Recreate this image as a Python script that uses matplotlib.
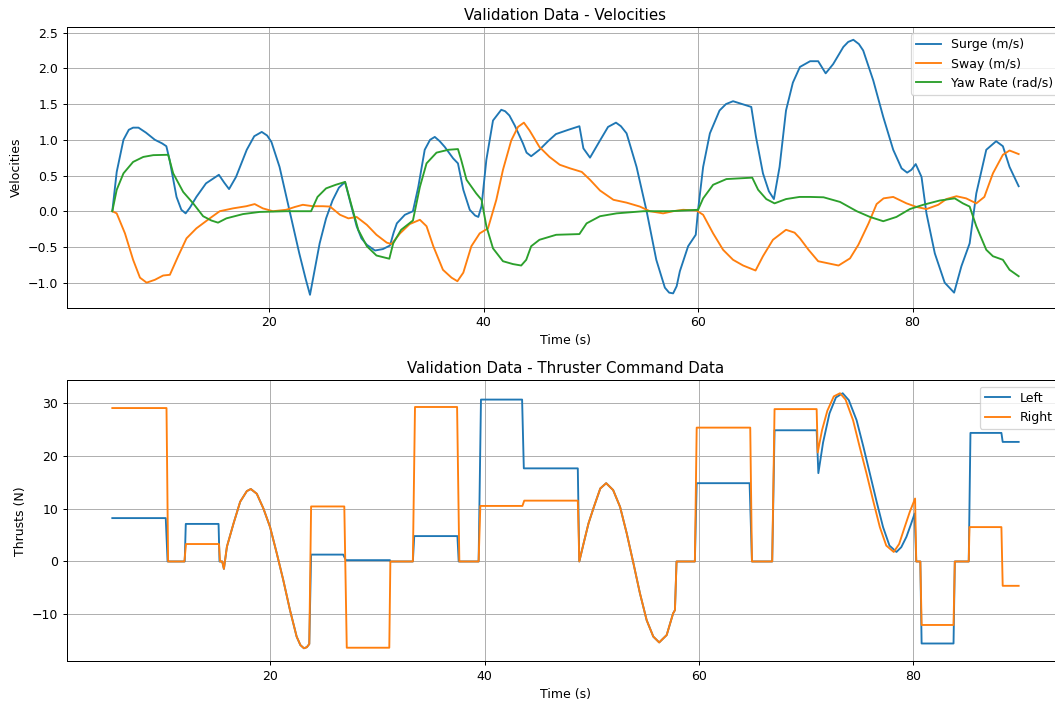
import numpy as np
from matplotlib import pyplot as plt

# velocities
surge_t = [5.36, 5.77, 6.4, 6.9, 7.3, 7.8, 8.5, 9.33, 10.0, 10.4, 10.7, 11.35, 11.8, 12.2,
           12.6, 13.2, 14.1, 15.3, 15.8, 16.25, 16.9, 17.9, 18.6, 19.3, 19.8, 20.2, 20.96,
           21.9, 22.8, 23.4, 23.8, 24.2, 24.7, 25.3, 25.9, 26.5, 27.07, 27.6, 28.15, 28.6,
           29.1, 29.86, 30.6, 31.26, 31.6, 31.9, 32.65, 33.4, 33.9, 34.5, 35.0, 35.44, 35.9,
           36.37, 37.15, 37.6, 38.1, 38.7, 39.2, 39.5, 39.8, 40.25, 40.87, 41.64, 42.0, 42.4,
           42.9, 43.66, 44.0, 44.43, 45.2, 46.0, 46.74, 47.9, 48.93, 49.3, 49.92, 50.85, 51.6,
           52.34, 52.8, 53.33, 54.26, 55.2, 56.1, 56.9, 57.3, 57.67, 58.0, 58.3, 59.07, 59.78,
           60.0, 60.47, 61.1, 62.0, 62.6, 63.26, 64.1, 64.96, 65.4, 66.05, 66.6, 67.07, 67.6,
           68.2, 68.84, 69.5, 70.45, 71.2, 71.9, 72.6, 73.55, 74.0, 74.48, 75.0, 75.4, 76.34,
           77.27, 78.2, 78.98, 79.5, 79.9, 80.3, 80.84, 81.3, 82.08, 83.0, 83.88, 84.56, 85.33,
           85.95, 86.88, 87.8, 88.43, 89.05, 89.4, 89.9]
surge = [0.0, 0.55, 1.0, 1.14, 1.17, 1.17, 1.10, 1.00, 0.95, 0.91, 0.72, 0.20, 0.02, -0.03,
         0.05, 0.20, 0.39, 0.51, 0.40, 0.31, 0.48, 0.86, 1.05, 1.11, 1.06, 0.97, 0.62,
         0.0, -0.59, -0.95, -1.17, -0.85, -0.45, -0.10, 0.15, 0.33, 0.41, 0.10, -0.21, -0.38,
         -0.47, -0.55, -0.53, -0.48, -0.30, -0.17, -0.05, 0.0, 0.34, 0.86, 1.0, 1.04, 0.98,
         0.90, 0.74, 0.67, 0.30, 0.02, -0.06, -0.08, 0.07, 0.72, 1.27, 1.42, 1.40, 1.34,
         1.20, 0.95, 0.82, 0.77, 0.86, 0.98, 1.08, 1.14, 1.19, 0.88, 0.75, 0.99, 1.18,
         1.24, 1.19, 1.09, 0.62, 0.0, -0.68, -1.07, -1.14, -1.15, -1.05, -0.84, -0.49, -0.33,
         0.02, 0.62, 1.09, 1.41, 1.50, 1.54, 1.50, 1.46, 1.04, 0.53, 0.28, 0.17, 0.62,
         1.41, 1.80, 2.02, 2.10, 2.10, 1.93, 2.06, 2.30, 2.37, 2.40, 2.34, 2.25, 1.83,
         1.32, 0.86, 0.60, 0.54, 0.58, 0.66, 0.48, -0.03, -0.59, -1.00, -1.14, -0.77, -0.45,
         0.25, 0.86, 0.98, 0.91, 0.62, 0.51, 0.35]

sway_t = [5.36, 5.77, 6.54, 7.3, 7.94, 8.56, 9.33, 10.1, 10.73, 11.5, 12.28, 13.2, 14.45,
          15.38, 16.62, 17.86, 18.64, 19.4, 20.34, 21.58, 22.4, 23.13, 24.06, 25.0, 25.67,
          26.6, 27.38, 28.15, 29.1, 30.0, 30.96, 31.4, 32.2, 33.1, 34.05, 34.67, 35.3, 36.2,
          37.0, 37.55, 38.1, 38.85, 39.63, 40.4, 41.18, 41.8, 42.57, 43.2, 43.75, 44.28,
          45.2, 46.14, 47.1, 48.06, 49.15, 49.92, 50.85, 52.1, 53.33, 54.57, 55.5, 56.74,
          57.67, 58.6, 59.85, 60.47, 61.4, 62.33, 63.26, 64.2, 65.36, 66.05, 66.98, 68.2,
          69.0, 69.5, 70.3, 71.2, 72.15, 73.1, 74.17, 74.95, 75.9, 76.65, 77.3, 78.2, 79.44,
          80.37, 81.3, 82.4, 83.16, 84.1, 85.0, 85.95, 86.7, 87.5, 88.43, 89.05, 89.9]
sway = [0.0, -0.03, -0.31, -0.68, -0.93, -1.00, -0.96, -0.90, -0.89, -0.63, -0.38, -0.24, -0.10,
        0.0, 0.04, 0.07, 0.10, 0.04, 0.0, 0.02, 0.06, 0.09, 0.07, 0.07, 0.065,
        -0.05, -0.10, -0.08, -0.19, -0.33, -0.44, -0.46, -0.31, -0.18, -0.12, -0.21, -0.49, -0.82,
        -0.93, -0.98, -0.86, -0.49, -0.31, -0.24, 0.16, 0.58, 0.99, 1.18, 1.24, 1.13,
        0.90, 0.76, 0.65, 0.60, 0.55, 0.44, 0.29, 0.16, 0.12, 0.065, 0.0, -0.03,
        0.0, 0.02, 0.01, -0.05, -0.31, -0.54, -0.68, -0.76, -0.83, -0.63, -0.40, -0.26,
        -0.30, -0.38, -0.54, -0.70, -0.73, -0.76, -0.66, -0.47, -0.17, 0.10, 0.18, 0.20, 0.11,
        0.06, 0.03, 0.09, 0.17, 0.21, 0.18, 0.11, 0.20, 0.53, 0.79, 0.85, 0.80]

yaw_t = [5.36, 5.77, 6.4, 7.3, 8.25, 9.18, 10.57, 11.04, 11.97, 12.9, 13.83, 14.6, 15.22,
         16.0, 17.55, 19.1, 21.58, 23.9, 24.5, 25.3, 26.2, 27.07, 27.7, 28.3, 29.1, 30.0,
         31.2, 31.56, 32.3, 33.4, 34.05, 34.67, 35.6, 36.7, 37.6, 37.9, 38.4, 39.3, 39.8,
         40.25, 40.87, 41.8, 42.73, 43.5, 43.97, 44.43, 45.2, 46.76, 48.93, 49.6, 50.85,
         52.4, 54.9, 57.36, 60.0, 60.47, 61.4, 62.64, 65.05, 65.6, 66.36, 67.13, 68.2,
         69.46, 70.45, 71.7, 73.24, 74.8, 76.03, 77.27, 78.5, 79.75, 81.0, 82.54, 83.94,
         84.7, 85.33, 85.95, 86.88, 87.5, 88.43, 89.05, 89.9]
yaw = [0.0, 0.30, 0.53, 0.69, 0.76, 0.785, 0.79, 0.53, 0.27, 0.11, -0.07, -0.13, -0.16,
       -0.10, -0.04, -0.01, 0.0, 0.0, 0.20, 0.32, 0.37, 0.41, 0.065, -0.26, -0.49, -0.62,
       -0.665, -0.45, -0.26, -0.13, 0.34, 0.67, 0.82, 0.86, 0.87, 0.72, 0.44, 0.25, 0.16,
       -0.21, -0.52, -0.70, -0.74, -0.76, -0.68, -0.49, -0.40, -0.33, -0.32, -0.17, -0.07,
       -0.03, 0.0, 0.0, 0.02, 0.18, 0.37, 0.45, 0.47, 0.30, 0.17, 0.11, 0.17,
       0.20, 0.20, 0.195, 0.13, 0.0, -0.08, -0.14, -0.08, 0.03, 0.09, 0.15, 0.18,
       0.11, 0.065, -0.21, -0.54, -0.63, -0.68, -0.82, -0.91]

# thruster commands
left_t = [5.24, 10.23, 10.4, 12.0, 12.1, 15.16, 15.25, 15.5, 15.66, 15.94, 16.56, 17.18, 17.8,
          18.17, 18.73, 19.35, 19.97, 20.6, 21.2, 21.83, 22.45, 22.8, 23.13, 23.4, 23.63, 23.8,
          26.8, 27.04, 31.16, 31.2, 33.3, 33.43, 37.46, 37.58, 39.44, 39.66, 43.5, 43.66, 48.7,
          48.84, 49.24, 49.7, 50.2, 50.8, 51.35, 52.0, 52.65, 53.27, 53.9, 54.5, 55.13, 55.75,
          56.3, 57.0, 57.6, 57.77, 57.92, 59.63, 59.8, 64.74, 64.96, 66.85, 67.07, 71.0, 71.16,
          71.6, 72.2, 72.8, 73.43, 74.0, 74.73, 75.35, 75.97, 76.6, 77.2, 77.8, 78.45, 78.9,
          79.38, 79.8, 80.15, 80.3, 80.68, 80.8, 83.78, 83.9, 85.2, 85.36, 88.25, 88.37, 89.86]
left = [8.2, 8.2, 0.0, 0.0, 7.1, 7.1, 0.0, 0.0, -1.4, 2.8, 7.2, 11.3, 13.3,
        13.7, 12.8, 10.0, 6.5, 1.5, -3.5, -9.2, -14.2, -15.8, -16.4, -16.2, -15.6, 1.3,
        1.3, 0.25, 0.25, 0.0, 0.0, 4.8, 4.8, 0.0, 0.0, 30.6, 30.6, 17.6, 17.6,
        0.0, 3.4, 7.2, 10.3, 13.8, 14.8, 13.5, 10.3, 5.3, -0.4, -6.0, -11.1, -14.2,
        -15.3, -13.9, -9.8, -9.2, 0.0, 0.0, 14.8, 14.8, 0.0, 0.0, 24.8, 24.8, 16.7,
        22.5, 28.0, 31.0, 31.8, 30.5, 26.7, 21.8, 16.6, 11.3, 6.5, 3.0, 1.8, 2.7,
        4.65, 7.0, 9.06, 0.0, 0.0, -15.5, -15.5, 0.0, 0.0, 24.3, 24.3, 22.6, 22.6]

right_t = [5.24, 10.3, 10.45, 11.97, 12.12, 15.2, 15.3, 15.5, 15.66, 15.94, 16.56, 17.18, 17.8,
           18.17, 18.73, 19.35, 19.97, 20.6, 21.2, 21.83, 22.45, 22.8, 23.13, 23.4, 23.63, 23.8,
           26.9, 27.13, 31.1, 31.2, 33.3, 33.5, 37.43, 37.64, 39.44, 39.6, 43.53, 43.7, 48.7,
           48.84, 49.24, 49.7, 50.2, 50.8, 51.35, 52.0, 52.65, 53.27, 53.9, 54.5, 55.13, 55.75,
           56.3, 57.0, 57.6, 57.77, 57.92, 59.63, 59.8, 64.8, 64.96, 66.85, 67.07, 71.0, 71.1,
           71.5, 72.0, 72.6, 73.18, 73.7, 74.4, 75.0, 75.66, 76.3, 76.9, 77.5, 78.2, 78.7,
           79.22, 79.7, 80.19, 80.3, 80.68, 80.8, 83.78, 83.9, 85.2, 85.27, 88.25, 88.37, 89.86]
right = [29.0, 29.0, 0.0, 0.0, 3.3, 3.3, 0.0, 0.0, -1.4, 2.8, 7.2, 11.3, 13.3,
         13.7, 12.8, 10.0, 6.5, 1.5, -3.5, -9.2, -14.2, -15.8, -16.4, -16.2, -15.6, 10.4,
         10.4, -16.3, -16.3, 0.0, 0.0, 29.2, 29.2, 0.0, 0.0, 10.5, 10.5, 11.5, 11.5,
         0.0, 3.4, 7.2, 10.3, 13.8, 14.8, 13.5, 10.3, 5.3, -0.4, -6.0, -11.1, -14.2,
         -15.3, -13.9, -9.8, -9.2, 0.0, 0.0, 25.3, 25.3, 0.0, 0.0, 28.8, 28.8, 20.6,
         24.8, 28.5, 31.2, 31.8, 30.6, 26.7, 21.8, 16.6, 11.3, 6.5, 3.0, 1.8, 3.3,
         6.5, 9.4, 11.9, 0.0, 0.0, -12.0, -12.0, 0.0, 0.0, 6.5, 6.5, -4.6, -4.6]

# original was drawn at a lower dpi, so text and lines come out a bit smaller
plt.figure(figsize=(1055 / 90, 702 / 90), dpi=90)

plt.subplot(211)
plt.plot(surge_t, surge, label="Surge (m/s)")
plt.plot(sway_t, sway, label="Sway (m/s)")
plt.plot(yaw_t, yaw, label="Yaw Rate (rad/s)")
plt.title("Validation Data - Velocities")
plt.xlabel("Time (s)")
plt.ylabel("Velocities")
plt.grid(True)
plt.legend(loc="upper right")

plt.subplot(212)
plt.plot(left_t, left, label="Left")
plt.plot(right_t, right, label="Right")
plt.title("Validation Data - Thruster Command Data")
plt.xlabel("Time (s)")
plt.ylabel("Thrusts (N)")
plt.grid(True)
plt.legend(loc="upper right")

# the original frame runs a little past the right edge of the picture
plt.subplots_adjust(left=0.0635, right=1.0085, top=0.9615, bottom=0.0584, hspace=0.26)
plt.savefig("out.png", dpi=90)
